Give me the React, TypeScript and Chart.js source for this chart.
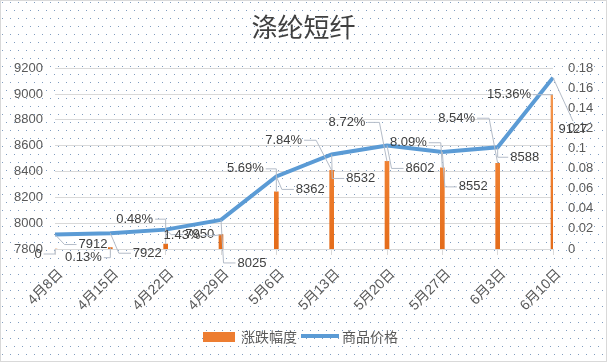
import React, { useEffect, useRef } from "react";
import { Chart, registerables } from "chart.js";

Chart.register(...registerables);

const titleText = "涤纶短纤";
const categories = ["4月8日", "4月15日", "4月22日", "4月29日", "5月6日", "5月13日", "5月20日", "5月27日", "6月3日", "6月10日"];
const priceValues = [7912, 7922, 7950, 8025, 8362, 8532, 8602, 8552, 8588, 9127];
const changeValues = [0, 0.0013, 0.0048, 0.0143, 0.0569, 0.0784, 0.0872, 0.0809, 0.0854, 0.1536];
const leftMin = 7800;
const leftMax = 9200;
const leftStep = 200;
const rightMin = 0;
const rightMax = 0.18;
const rightStep = 0.02;
const barName = "涨跌幅度";
const lineName = "商品价格";

// label placement offsets (pixels relative to each mark)
const priceLabelOffsets = [[38, 10], [37, 20], [34, 5], [31, 43], [34, 13], [29, 24], [33, 23], [31, 35], [27, 10], [20, 52]];
const changeLabelOffsets = [[-17, 5], [-27, 10], [-31, -25], [-39, 1], [-31, -23], [-48, -30], [-40, -39], [-34, -25], [-41, -45], [-44, 0]];

const LABEL_FONT = '13px "Liberation Sans", "Noto Sans CJK SC", sans-serif';
const TEXT_COLOR = "#595959";
const BLUE = "#5B9BD5";
const ORANGE = "#ED7D31";

function fmtPct(v: number) {
  if (v === 0) return "0";
  return (v * 100).toFixed(2) + "%";
}

function drawLabel(ctx: CanvasRenderingContext2D, px: number, py: number, text: string, dx: number, dy: number) {
  ctx.font = LABEL_FONT;
  const w = ctx.measureText(text).width;
  const h = 13;
  const cx = px + dx;
  const cy = py + dy;
  const left = cx - w / 2;
  const right = cx + w / 2;
  const far = Math.abs(dx) > w / 2 + 5 || Math.abs(dy) > h / 2 + 5;
  if (far) {
    ctx.save();
    ctx.strokeStyle = "#b4bcc8";
    ctx.lineWidth = 1;
    ctx.beginPath();
    if (Math.abs(dy) > Math.abs(dx) * 1.5) {
      const ay = dy > 0 ? cy - h / 2 - 2 : cy + h / 2 + 2;
      ctx.moveTo(px, py);
      ctx.lineTo(cx, ay);
    } else if (px < left) {
      const ax = left - 2;
      const sx = Math.max(px, ax - 12);
      ctx.moveTo(px, py);
      ctx.lineTo(sx, cy);
      ctx.lineTo(ax, cy);
    } else {
      const ax = right + 2;
      const sx = Math.min(px, ax + 12);
      ctx.moveTo(px, py);
      ctx.lineTo(sx, cy);
      ctx.lineTo(ax, cy);
    }
    ctx.stroke();
    ctx.restore();
  }
  ctx.fillStyle = "#404040";
  ctx.textAlign = "center";
  ctx.textBaseline = "middle";
  ctx.fillText(text, cx, cy);
}

const bgPlugin = {
  id: "bgPattern",
  beforeDraw(chart: any) {
    const { ctx, width, height } = chart;
    const tile = document.createElement("canvas");
    tile.width = 8;
    tile.height = 16;
    const t = tile.getContext("2d")!;
    t.fillStyle = "#ffffff";
    t.fillRect(0, 0, 8, 16);
    t.fillStyle = "#7f9cc0";
    t.fillRect(2, 2, 1, 1);
    t.fillRect(6, 10, 1, 1);
    ctx.save();
    const pat = ctx.createPattern(tile, "repeat");
    ctx.fillStyle = pat || "#fff";
    ctx.fillRect(0, 0, width, height);
    ctx.strokeStyle = "#d9d9d9";
    ctx.lineWidth = 1;
    ctx.strokeRect(0.5, 0.5, width - 1, height - 1);
    ctx.restore();
  },
};

const labelPlugin = {
  id: "dataLabels",
  afterDatasetsDraw(chart: any) {
    const ctx = chart.ctx;
    ctx.save();
    chart.data.datasets.forEach((ds: any, di: number) => {
      const meta = chart.getDatasetMeta(di);
      meta.data.forEach((el: any, i: number) => {
        if (ds.type === "line") {
          const [dx, dy] = priceLabelOffsets[i];
          drawLabel(ctx, el.x, el.y, String(ds.data[i]), dx, dy);
        } else {
          const [dx, dy] = changeLabelOffsets[i];
          drawLabel(ctx, el.x, el.y, fmtPct(ds.data[i]), dx, dy);
        }
      });
    });
    ctx.restore();
  },
  afterDraw(chart: any) {
    // legend
    const ctx = chart.ctx;
    ctx.save();
    ctx.font = '14px "Noto Sans CJK SC", sans-serif';
    const w1 = ctx.measureText(barName).width;
    const w2 = ctx.measureText(lineName).width;
    const sw = 32;
    const gap = 6;
    const total = sw + gap + w1 + 4 + 38 + 3 + w2;
    let x = (chart.width - total) / 2 - 3;
    const y = 337;
    ctx.fillStyle = ORANGE;
    ctx.fillRect(x, y - 5, sw, 10);
    x += sw + gap;
    ctx.fillStyle = TEXT_COLOR;
    ctx.textAlign = "left";
    ctx.textBaseline = "middle";
    ctx.fillText(barName, x, y);
    x += w1 + 4;
    ctx.strokeStyle = BLUE;
    ctx.lineWidth = 4;
    ctx.beginPath();
    ctx.moveTo(x, y - 1);
    ctx.lineTo(x + 38, y - 1);
    ctx.stroke();
    x += 38 + 3;
    ctx.fillText(lineName, x, y);
    ctx.restore();
  },
};

export default function App() {
  const ref = useRef<HTMLCanvasElement>(null);
  useEffect(() => {
    const canvas = ref.current!;
    const chart = new Chart(canvas, {
      type: "bar",
      data: {
        labels: categories,
        datasets: [
          {
            type: "line",
            label: lineName,
            data: priceValues,
            yAxisID: "y",
            borderColor: BLUE,
            backgroundColor: BLUE,
            borderWidth: 4,
            pointRadius: 0,
            tension: 0,
            order: 0,
          } as any,
          {
            type: "bar",
            label: barName,
            data: changeValues,
            yAxisID: "y1",
            backgroundColor: (c: any) => {
              const area = c.chart.chartArea;
              if (!area) return ORANGE;
              const g = c.chart.ctx.createLinearGradient(0, area.top, 0, area.bottom);
              g.addColorStop(0, "#F4A05C");
              g.addColorStop(0.5, "#F08233");
              g.addColorStop(1, "#E46C1A");
              return g;
            },
            barThickness: 4,
            order: 1,
          } as any,
        ],
      },
      options: {
        responsive: false,
        animation: false,
        layout: { padding: { left: 0, right: 0, top: 0, bottom: 43 } },
        plugins: {
          legend: { display: false },
          tooltip: { enabled: false },
          title: {
            display: true,
            text: titleText,
            color: "#404040",
            font: { family: '"Noto Sans CJK SC", sans-serif', size: 26, weight: "normal" as any },
            padding: { top: 12, bottom: 25 },
          },
        },
        scales: {
          x: {
            offset: false,
            grid: {
              display: true,
              drawOnChartArea: false,
              drawTicks: true,
              tickLength: 6,
              color: "#d9d9d9",
              offset: false,
            },
            border: { display: true, color: "#d9d9d9" },
            ticks: {
              autoSkip: false,
              maxRotation: 45,
              minRotation: 45,
              color: TEXT_COLOR,
              padding: 11,
              labelOffset: 6,
              font: { family: '"Liberation Sans", "Noto Sans CJK SC", sans-serif', size: 14 },
            },
            afterFit: (s: any) => {
              s.height = 70;
            },
          },
          y: {
            position: "left",
            min: leftMin,
            max: leftMax,
            ticks: {
              stepSize: leftStep,
              color: TEXT_COLOR,
              padding: 12,
              font: { family: '"Liberation Sans", sans-serif', size: 13 },
              callback: (v: any) => String(v),
            },
            grid: { color: "#d9d9d9", drawTicks: false },
            border: { display: false },
            afterFit: (s: any) => {
              s.width = 55;
            },
          },
          y1: {
            position: "right",
            min: rightMin,
            max: rightMax,
            ticks: {
              stepSize: rightStep,
              color: TEXT_COLOR,
              padding: 15,
              font: { family: '"Liberation Sans", sans-serif', size: 13 },
              callback: (v: any) => String(+Number(v).toFixed(2)),
            },
            grid: { display: false, drawTicks: false },
            border: { display: false },
            afterFit: (s: any) => {
              s.width = 54;
            },
          },
        },
      },
      plugins: [bgPlugin, labelPlugin],
    });
    return () => chart.destroy();
  }, []);
  return (
    <div style={{ position: "fixed", left: 0, top: 0, width: 607, height: 362 }}>
      <canvas ref={ref} width={607} height={362} style={{ display: "block" }} />
    </div>
  );
}
